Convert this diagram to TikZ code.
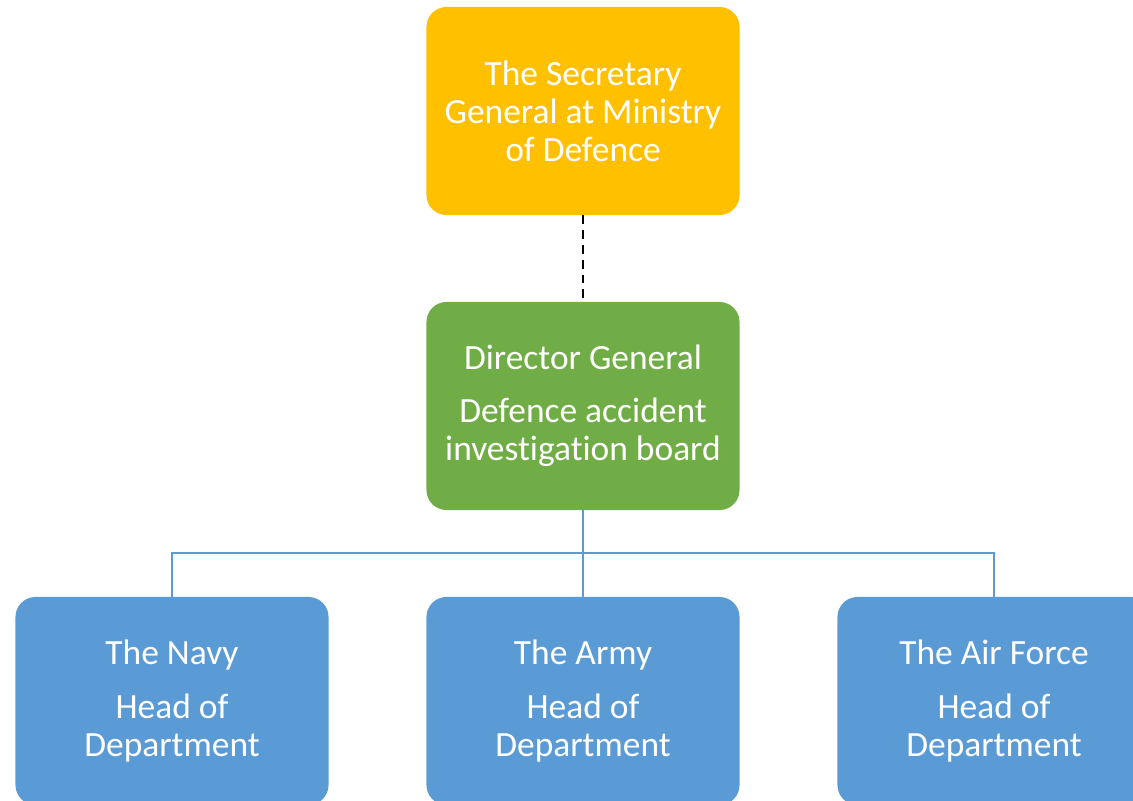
\documentclass[tikz,border=0pt]{standalone}
\usepackage{fontspec}
\setmainfont[Ligatures=NoCommon]{Carlito}
\definecolor{boxYellow}{HTML}{FFC000}
\definecolor{boxGreen}{HTML}{70AD47}
\definecolor{boxBlue}{HTML}{5B9BD5}
\begin{document}
\begin{tikzpicture}[x=0.025cm, y=-0.025cm,
  org/.style={rounded corners=0.5cm, minimum width=7.825cm, minimum height=5.2cm,
    text=white, align=center, font=\fontsize{25.2}{27}\selectfont, inner sep=0pt},
  conn/.style={boxBlue, line width=1.5pt}]
\useasboundingbox (0,0) rectangle (1133,801);

\node[org, fill=boxYellow] (secgen) at (583,111) {The Secretary\\General at Ministry\\of Defence};
\node[org, fill=boxGreen] (dirgen) at (583,406) {Director General\\[0.38cm]Defence accident\\investigation board};

\node[org, fill=boxBlue] (navy) at (172,701) {The Navy\\[0.38cm]Head of\\Department};
\node[org, fill=boxBlue] (army) at (583,701) {The Army\\[0.38cm]Head of\\Department};
\node[org, fill=boxBlue] (airforce) at (994,701) {The Air Force\\[0.38cm]Head of\\Department};

\draw[black, line width=1.2pt, dash pattern=on 0.22cm off 0.15cm] (secgen.south) -- ([yshift=0.05cm]dirgen.north);

\coordinate (bar) at (583,553);
\draw[conn] (dirgen.south) -- (army.north);
\draw[conn] ([yshift=-0.05cm]navy.north) |- (bar) -| ([yshift=-0.05cm]airforce.north);
\end{tikzpicture}
\end{document}
